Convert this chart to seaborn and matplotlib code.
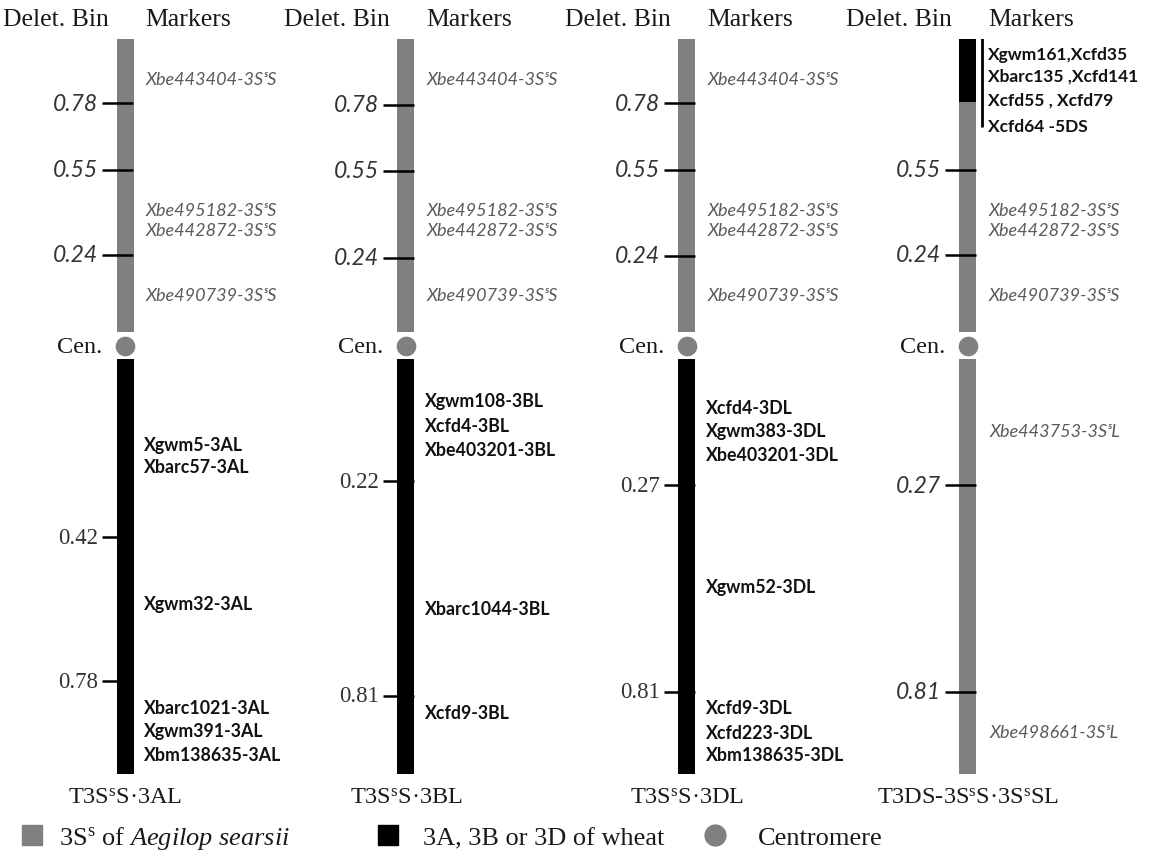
import numpy as np
import pandas as pd
import matplotlib.pyplot as plt
import seaborn as sns
from matplotlib.lines import Line2D

# translocation lines (bottom labels)
lines = ["T3S$^\\mathrm{s}$S·3AL", "T3S$^\\mathrm{s}$S·3BL",
         "T3S$^\\mathrm{s}$S·3DL", "T3DS-3S$^\\mathrm{s}$S·3S$^\\mathrm{s}$SL"]

# arm lengths (fraction length, each arm drawn 0..1)
short_arm_len = [1.0, 1.0, 1.0, 1.0]
long_arm_len = [1.0, 1.0, 1.0, 1.0]
short_arm_origin = ["alien", "alien", "alien", "alien"]
long_arm_origin = ["wheat", "wheat", "wheat", "alien"]

# 5DS wheat segment on the short arm of T3DS-3SsS.3SsSL
wheat_seg_bottom = 0.785
wheat_seg_top = 1.0

# deletion bin breakpoints, short arm
short_bin_labels = [["0.78", "0.55", "0.24"], ["0.78", "0.55", "0.24"],
                    ["0.78", "0.55", "0.24"], ["0.55", "0.24"]]
short_bin_pos = [[0.78, 0.553, 0.263], [0.775, 0.55, 0.253],
                 [0.78, 0.553, 0.26], [0.553, 0.263]]

# deletion bin breakpoints, long arm
long_bin_labels = [["0.42", "0.78"], ["0.22", "0.81"], ["0.27", "0.81"], ["0.27", "0.81"]]
long_bin_pos = [[0.429, 0.776], [0.294, 0.812], [0.304, 0.802], [0.304, 0.802]]

# markers on the 3S^s short arm
alien_short_markers = ["Xbe443404-3SˢS", "Xbe495182-3SˢS", "Xbe442872-3SˢS", "Xbe490739-3SˢS"]
alien_short_pos = [0.863, 0.416, 0.348, 0.126]

# 5DS markers on the T3DS short arm
wheat_5ds_markers = ["Xgwm161,Xcfd35", "Xbarc135 ,Xcfd141", "Xcfd55 , Xcfd79", "Xcfd64 -5DS"]
wheat_5ds_pos = [0.949, 0.874, 0.795, 0.703]

# long arm markers
markers_3al = ["Xgwm5-3AL", "Xbarc57-3AL", "Xgwm32-3AL", "Xbarc1021-3AL", "Xgwm391-3AL", "Xbm138635-3AL"]
pos_3al = [0.205, 0.260, 0.590, 0.839, 0.896, 0.952]
markers_3bl = ["Xgwm108-3BL", "Xcfd4-3BL", "Xbe403201-3BL", "Xbarc1044-3BL", "Xcfd9-3BL"]
pos_3bl = [0.101, 0.161, 0.217, 0.602, 0.851]
markers_3dl = ["Xcfd4-3DL", "Xgwm383-3DL", "Xbe403201-3DL", "Xgwm52-3DL", "Xcfd9-3DL", "Xcfd223-3DL", "Xbm138635-3DL"]
pos_3dl = [0.116, 0.173, 0.231, 0.547, 0.839, 0.899, 0.954]
markers_3sl = ["Xbe443753-3SˢL", "Xbe498661-3SˢL"]
pos_3sl = [0.173, 0.899]

GRAY = "#808080"
colors = {"alien": GRAY, "wheat": "black"}
SERIF = ["Liberation Serif", "DejaVu Serif"]
SANS = ["Lato", "DejaVu Sans"]

sns.set_style("white")
plt.rcParams["mathtext.fontset"] = "custom"
plt.rcParams["mathtext.rm"] = "Liberation Serif"
plt.rcParams["mathtext.it"] = "Liberation Serif:italic"

fig = plt.figure(figsize=(11.5, 8.54), dpi=100)
ax_s = fig.add_axes([0, 0.6101, 1, 0.3431])
ax_l = fig.add_axes([0, 0.0925, 1, 0.4859])
BAR_W = 0.0605

short_df = pd.DataFrame({"line": lines, "len": short_arm_len, "origin": short_arm_origin})
long_df = pd.DataFrame({"line": lines, "len": long_arm_len, "origin": long_arm_origin})

sns.barplot(data=short_df, x="line", y="len", hue="line",
            palette=[colors[o] for o in short_arm_origin], width=BAR_W,
            saturation=1, linewidth=0, legend=False, ax=ax_s)
sns.barplot(data=long_df, x="line", y="len", hue="line",
            palette=[colors[o] for o in long_arm_origin], width=BAR_W,
            saturation=1, linewidth=0, legend=False, ax=ax_l)

# wheat 5DS segment at the tip of the short arm
ax_s.bar(3, wheat_seg_top - wheat_seg_bottom, bottom=wheat_seg_bottom,
         width=BAR_W, color="black", linewidth=0)
ax_s.vlines(3 + 0.05, wheat_5ds_pos[-1] - 0.005, wheat_seg_top + 0.007,
            color="black", lw=2)

# centromeres
CEN_Y = -0.031
sns.scatterplot(x=lines, y=[CEN_Y] * 4, color=GRAY, s=200, marker="o",
                linewidth=0, clip_on=False, ax=ax_l, zorder=5)
for i in range(4):
    ax_l.text(i - 0.08, CEN_Y, "Cen.", ha="right", va="center",
              fontsize=17.5, family=SERIF, color="#1a1a1a")

for ax in (ax_s, ax_l):
    ax.set_xlim(-0.445, 3.648)
    ax.set_yticks([])
    ax.set_xlabel("")
    ax.set_ylabel("")
    ax.set_facecolor("none")
    sns.despine(ax=ax, left=True, bottom=True)
ax_s.set_ylim(0, 1)
ax_l.set_ylim(1, 0)
ax_s.set_xticks([])
ax_l.set_xticks(range(4))
ax_l.set_xticklabels(lines, fontsize=17.5, family=SERIF, color="#1a1a1a")
ax_l.tick_params(axis="x", length=0, pad=9)

# headers
for i in range(4):
    ax_s.text(i - 0.057, 1.068, "Delet. Bin", ha="right", va="center",
              fontsize=18.5, family=SERIF, color="#1a1a1a")
    ax_s.text(i + 0.071, 1.068, "Markers", ha="left", va="center",
              fontsize=18.5, family=SERIF, color="#1a1a1a")

# bin ticks
for i in range(4):
    for lab, p in zip(short_bin_labels[i], short_bin_pos[i]):
        ax_s.hlines(p, i - 0.082, i + 0.028, color="black", lw=1.8)
        ax_s.text(i - 0.096, p, lab, ha="right", va="center", fontsize=16.5,
                  family=SANS, style="italic", color="#333333")
    for lab, p in zip(long_bin_labels[i], long_bin_pos[i]):
        ax_l.hlines(p, i - 0.082, i + 0.028, color="black", lw=1.8)
        if long_arm_origin[i] == "wheat":
            ax_l.text(i - 0.096, p, lab, ha="right", va="center", fontsize=16.5,
                      family=SERIF, color="#333333")
        else:
            ax_l.text(i - 0.096, p, lab, ha="right", va="center", fontsize=16.5,
                      family=SANS, style="italic", color="#333333")

# alien short arm markers
for i in range(4):
    for m, p in zip(alien_short_markers, alien_short_pos):
        if i == 3 and p > wheat_seg_bottom:
            continue
        ax_s.text(i + 0.075, p, m, ha="left", va="center", fontsize=13,
                  family=SANS, style="italic", color="#5a5a5a")

for m, p in zip(wheat_5ds_markers, wheat_5ds_pos):
    ax_s.text(3 + 0.071, p, m, ha="left", va="center", fontsize=12.5,
              family=SANS, weight="bold", color="#111111")

# long arm markers
for i, (ms, ps) in enumerate([(markers_3al, pos_3al), (markers_3bl, pos_3bl),
                              (markers_3dl, pos_3dl), (markers_3sl, pos_3sl)]):
    for m, p in zip(ms, ps):
        if long_arm_origin[i] == "wheat":
            ax_l.text(i + 0.066, p, m, ha="left", va="center", fontsize=12.8,
                      family=SANS, weight="bold", color="#111111")
        else:
            ax_l.text(i + 0.078, p, m, ha="left", va="center", fontsize=13,
                      family=SANS, style="italic", color="#5a5a5a")

# legend
legend_items = [
    (Line2D([], [], marker="s", ls="", color=GRAY, markersize=14),
     "3S$^\\mathrm{s}$ of $\\mathit{Aegilop\\ searsii}$", 0.0163, 0.53),
    (Line2D([], [], marker="s", ls="", color="black", markersize=14),
     "3A, 3B or 3D of wheat", 0.3259, 0.83),
    (Line2D([], [], marker="o", ls="", color=GRAY, markersize=15),
     "Centromere", 0.6103, 1.13),
]
for h, lab, x0, tp in legend_items:
    fig.legend(handles=[h], labels=[lab], loc="center left",
               bbox_to_anchor=(x0, 0.018), frameon=False, borderaxespad=0,
               borderpad=0, handlelength=1, handletextpad=tp,
               prop=dict(family=SERIF, size=19), labelcolor="#1a1a1a")

plt.savefig("out.png", dpi=100)
